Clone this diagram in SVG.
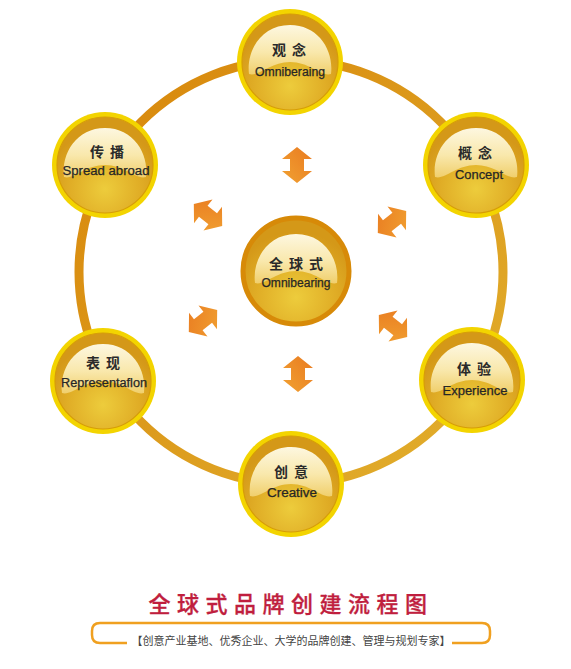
<svg xmlns="http://www.w3.org/2000/svg" width="571" height="669" viewBox="0 0 571 669">
<defs>
<linearGradient id="ringG" x1="0" y1="0" x2="1" y2="1">
<stop offset="0" stop-color="#d8860a"/>
<stop offset="0.5" stop-color="#dc9a1c"/>
<stop offset="1" stop-color="#e2b02e"/>
</linearGradient>
<radialGradient id="bodyG" cx="0.5" cy="0.75" r="0.62">
<stop offset="0" stop-color="#edcc3c"/>
<stop offset="0.6" stop-color="#e0ad26"/>
<stop offset="1" stop-color="#d49818"/>
</radialGradient>
<linearGradient id="hiG" x1="0" y1="0" x2="0" y2="1">
<stop offset="0" stop-color="#fdf7e0"/>
<stop offset="0.55" stop-color="#f9e8ac"/>
<stop offset="1" stop-color="#f0cf6c"/>
</linearGradient>
<linearGradient id="arrG" x1="0" y1="0" x2="1" y2="1">
<stop offset="0" stop-color="#e97a20"/>
<stop offset="1" stop-color="#f1a232"/>
</linearGradient>
<g id="node">
<circle r="53" fill="#f3d400"/>
<circle r="48" fill="url(#bodyG)" stroke="#d69c08" stroke-width="1.2"/>
<path d="M-41 12 C-44 -12 -28 -37 0 -37 C28 -37 44 -12 41 12 C31 15 20 0 0 0 C-20 0 -31 15 -41 12 Z" fill="url(#hiG)"/>
</g>
<path id="arr" d="M-18 0 L-6 -15 L-6 -7 L6 -7 L6 -15 L18 0 L6 15 L6 7 L-6 7 L-6 15 Z" fill="url(#arrG)"/>
</defs>
<style>
.zh{font-family:"Noto Sans CJK SC","Noto Sans",sans-serif;font-weight:bold;font-size:14px;fill:#2a2a2a;text-anchor:middle;letter-spacing:6px}
.en{font-family:"Liberation Sans","DejaVu Sans",sans-serif;font-size:12px;fill:#262626;stroke:#262626;stroke-width:0.25;text-anchor:middle}
</style>
<rect width="571" height="669" fill="#ffffff"/>
<g id="connectors">
<circle cx="291" cy="272" r="212" fill="none" stroke="url(#ringG)" stroke-width="9"/>
<use href="#arr" transform="translate(297,165) rotate(90)"/>
<use href="#arr" transform="translate(298,374) rotate(90)"/>
<use href="#arr" transform="translate(208,215) rotate(38)"/>
<use href="#arr" transform="translate(392,222) rotate(-38)"/>
<use href="#arr" transform="translate(203,321) rotate(-38)"/>
<use href="#arr" transform="translate(393,326) rotate(38)"/>
</g>
<g id="n-top">
<use href="#node" transform="translate(290,62)"/>
<text class="zh" x="292" y="55">观念</text>
<text class="en" x="290" y="76" textLength="70" lengthAdjust="spacingAndGlyphs">Omniberaing</text>
</g>
<g id="n-ul">
<use href="#node" transform="translate(105,165)"/>
<text class="zh" x="110" y="157">传播</text>
<text class="en" x="106" y="175" textLength="87" lengthAdjust="spacingAndGlyphs">Spread abroad</text>
</g>
<g id="n-ur">
<use href="#node" transform="translate(476,165)"/>
<text class="zh" x="478" y="158">概念</text>
<text class="en" x="479" y="179" textLength="48" lengthAdjust="spacingAndGlyphs">Concept</text>
</g>
<g id="n-center">
<circle cx="296" cy="271" r="53" fill="url(#bodyG)" stroke="#d78a08" stroke-width="5"/>
<path d="M-41 12 C-44 -12 -28 -37 0 -37 C28 -37 44 -12 41 12 C31 15 20 0 0 0 C-20 0 -31 15 -41 12 Z" fill="url(#hiG)" transform="translate(296,271)"/>
<text class="zh" x="299" y="269">全球式</text>
<text class="en" x="296" y="287" textLength="69" lengthAdjust="spacingAndGlyphs">Omnibearing</text>
</g>
<g id="n-ll">
<use href="#node" transform="translate(103,381)"/>
<text class="zh" x="106" y="368">表现</text>
<text class="en" x="104" y="387" textLength="86" lengthAdjust="spacingAndGlyphs">Representaflon</text>
</g>
<g id="n-lr">
<use href="#node" transform="translate(472,380)"/>
<text class="zh" x="477" y="374">体验</text>
<text class="en" x="475" y="395" textLength="65" lengthAdjust="spacingAndGlyphs">Experience</text>
</g>
<g id="n-bottom">
<use href="#node" transform="translate(291,484)"/>
<text class="zh" x="294" y="477">创意</text>
<text class="en" x="292" y="497" textLength="50" lengthAdjust="spacingAndGlyphs">Creative</text>
</g>
<g id="title">
<text x="291" y="612" font-family="'Noto Sans CJK SC',sans-serif" font-size="22" font-weight="500" fill="#c01e3e" stroke="#c01e3e" stroke-width="0.3" text-anchor="middle" letter-spacing="6.5">全球式品牌创建流程图</text>
<path d="M127 643 L100 643 Q92 643 92 635 L92 631 Q92 623 100 623 L482 623 Q490 623 490 631 L490 635 Q490 643 482 643 L452 643" fill="none" stroke="#f0a020" stroke-width="2.5"/>
<text x="291" y="645" font-family="'Noto Sans CJK SC',sans-serif" font-size="11" fill="#444" text-anchor="middle">【创意产业基地、优秀企业、大学的品牌创建、管理与规划专家】</text>
</g>
</svg>
